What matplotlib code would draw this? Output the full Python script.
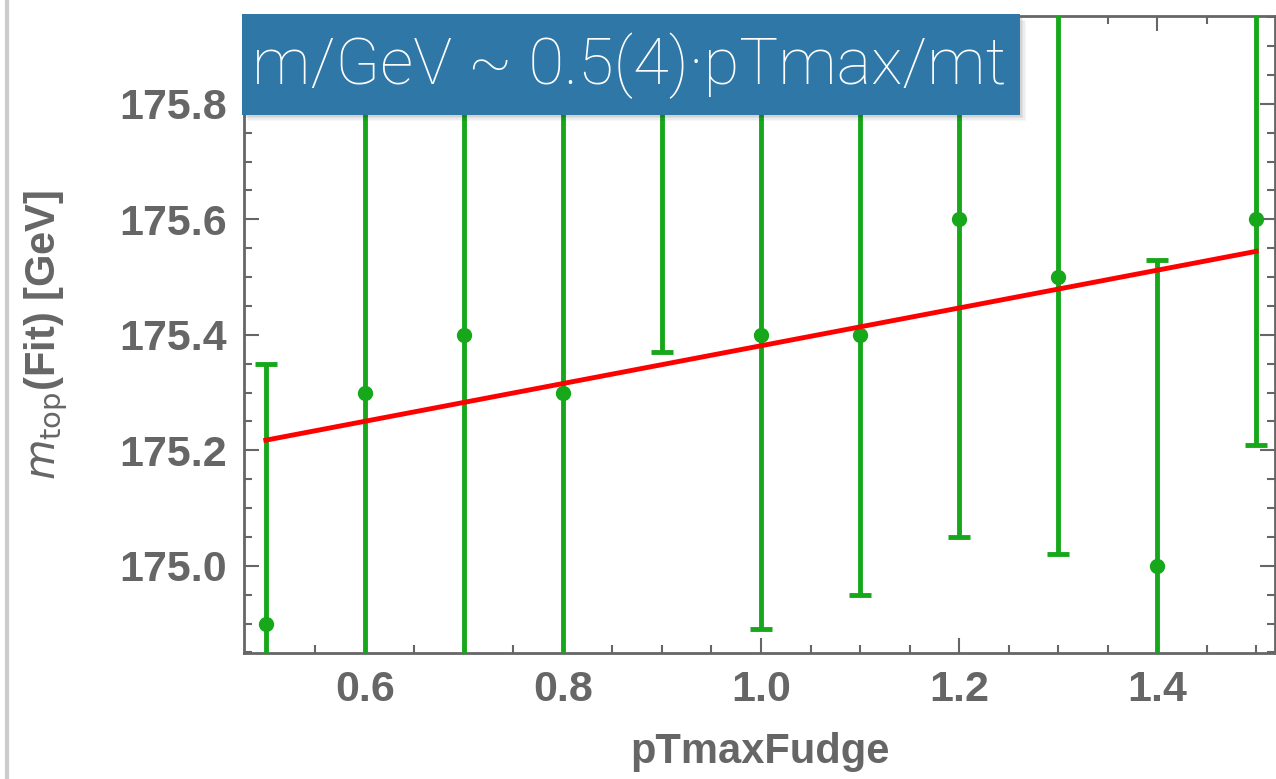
import numpy as np
import matplotlib.pyplot as plt
from matplotlib.lines import Line2D
from matplotlib.patches import Rectangle
from matplotlib.ticker import MultipleLocator

# data
fudge = [0.5, 0.6, 0.7, 0.8, 0.9, 1.0, 1.1, 1.2, 1.3, 1.4, 1.5]
mtop = [174.9, 175.3, 175.4, 175.3, 175.9, 175.4, 175.4, 175.6, 175.5, 175.0, 175.6]
mtop_err = [0.45, 0.7, 0.8, 0.7, 0.53, 0.51, 0.45, 0.55, 0.48, 0.53, 0.39]
fit_intercept = 175.054
fit_slope = 0.327
title_text = "m/GeV ~ 0.5(4)\u00b7pTmax/mt"

gray = '#666666'
green = '#16a81a'

fig = plt.figure(figsize=(12.76, 7.79), dpi=100)
ax = fig.add_axes([244/1276, 1 - 653/779, (1275-244)/1276, (653-16)/779])

ax.errorbar(fudge, mtop, yerr=mtop_err, fmt='o', color=green, ms=10,
            elinewidth=3.5, capsize=8, capthick=3.5, zorder=3, clip_on=True)

xf = np.array([fudge[0], fudge[-1]])
ax.plot(xf, fit_intercept + fit_slope * xf, color='#ff0000', lw=3.5, zorder=4)

ax.set_xlim(0.478, 1.519)
ax.set_ylim(174.849, 175.952)

ax.xaxis.set_major_locator(MultipleLocator(0.2))
ax.xaxis.set_minor_locator(MultipleLocator(0.05))
ax.yaxis.set_major_locator(MultipleLocator(0.2))
ax.yaxis.set_minor_locator(MultipleLocator(0.05))
ax.xaxis.set_major_formatter(plt.FuncFormatter(lambda v, p: f'{v:.1f}'))
ax.yaxis.set_major_formatter(plt.FuncFormatter(lambda v, p: f'{v:.1f}'))

for s in ax.spines.values():
    s.set_color(gray)
    s.set_linewidth(2)
ax.tick_params(which='both', direction='in', top=True, right=True, color=gray,
               labelcolor=gray, labelsize=31, width=1.5)
ax.tick_params(which='major', length=11, pad=12)
ax.tick_params(which='minor', length=6)
for lab in ax.get_xticklabels() + ax.get_yticklabels():
    lab.set_fontfamily('Liberation Sans')
    lab.set_fontweight('bold')

ax.set_xlabel('pTmaxFudge', fontsize=30, color=gray, fontweight='bold',
              fontfamily='Liberation Sans', labelpad=16)
ax.set_ylabel(r'$m_{\mathrm{top}}$(Fit) [GeV]', fontsize=30, color=gray,
              fontweight='bold', fontfamily='Liberation Sans', labelpad=36)

# blue title box with a soft shadow
for i, a in enumerate([0.06, 0.05, 0.04, 0.03]):
    d = (i + 1) * 1.5
    fig.add_artist(Rectangle(((242 + d)/1276, 1 - (115 + d)/779), 778/1276, 100/779,
                             transform=fig.transFigure, color='black', alpha=a,
                             zorder=9, lw=0))
fig.add_artist(Rectangle((242/1276, 1 - 115/779), 778/1276, 101/779,
                         transform=fig.transFigure, color='#2f77a7', zorder=10, lw=0))
fig.text(252/1276, 1 - 66/779, title_text, color='white', fontsize=47,
         fontfamily='Roboto', fontweight='light', va='center', ha='left', zorder=11)

# light border at the left edge
fig.add_artist(Line2D([7/1276, 7/1276], [0, 1], transform=fig.transFigure,
                      color='#cccccc', lw=3))

fig.savefig('out.png', dpi=100)
